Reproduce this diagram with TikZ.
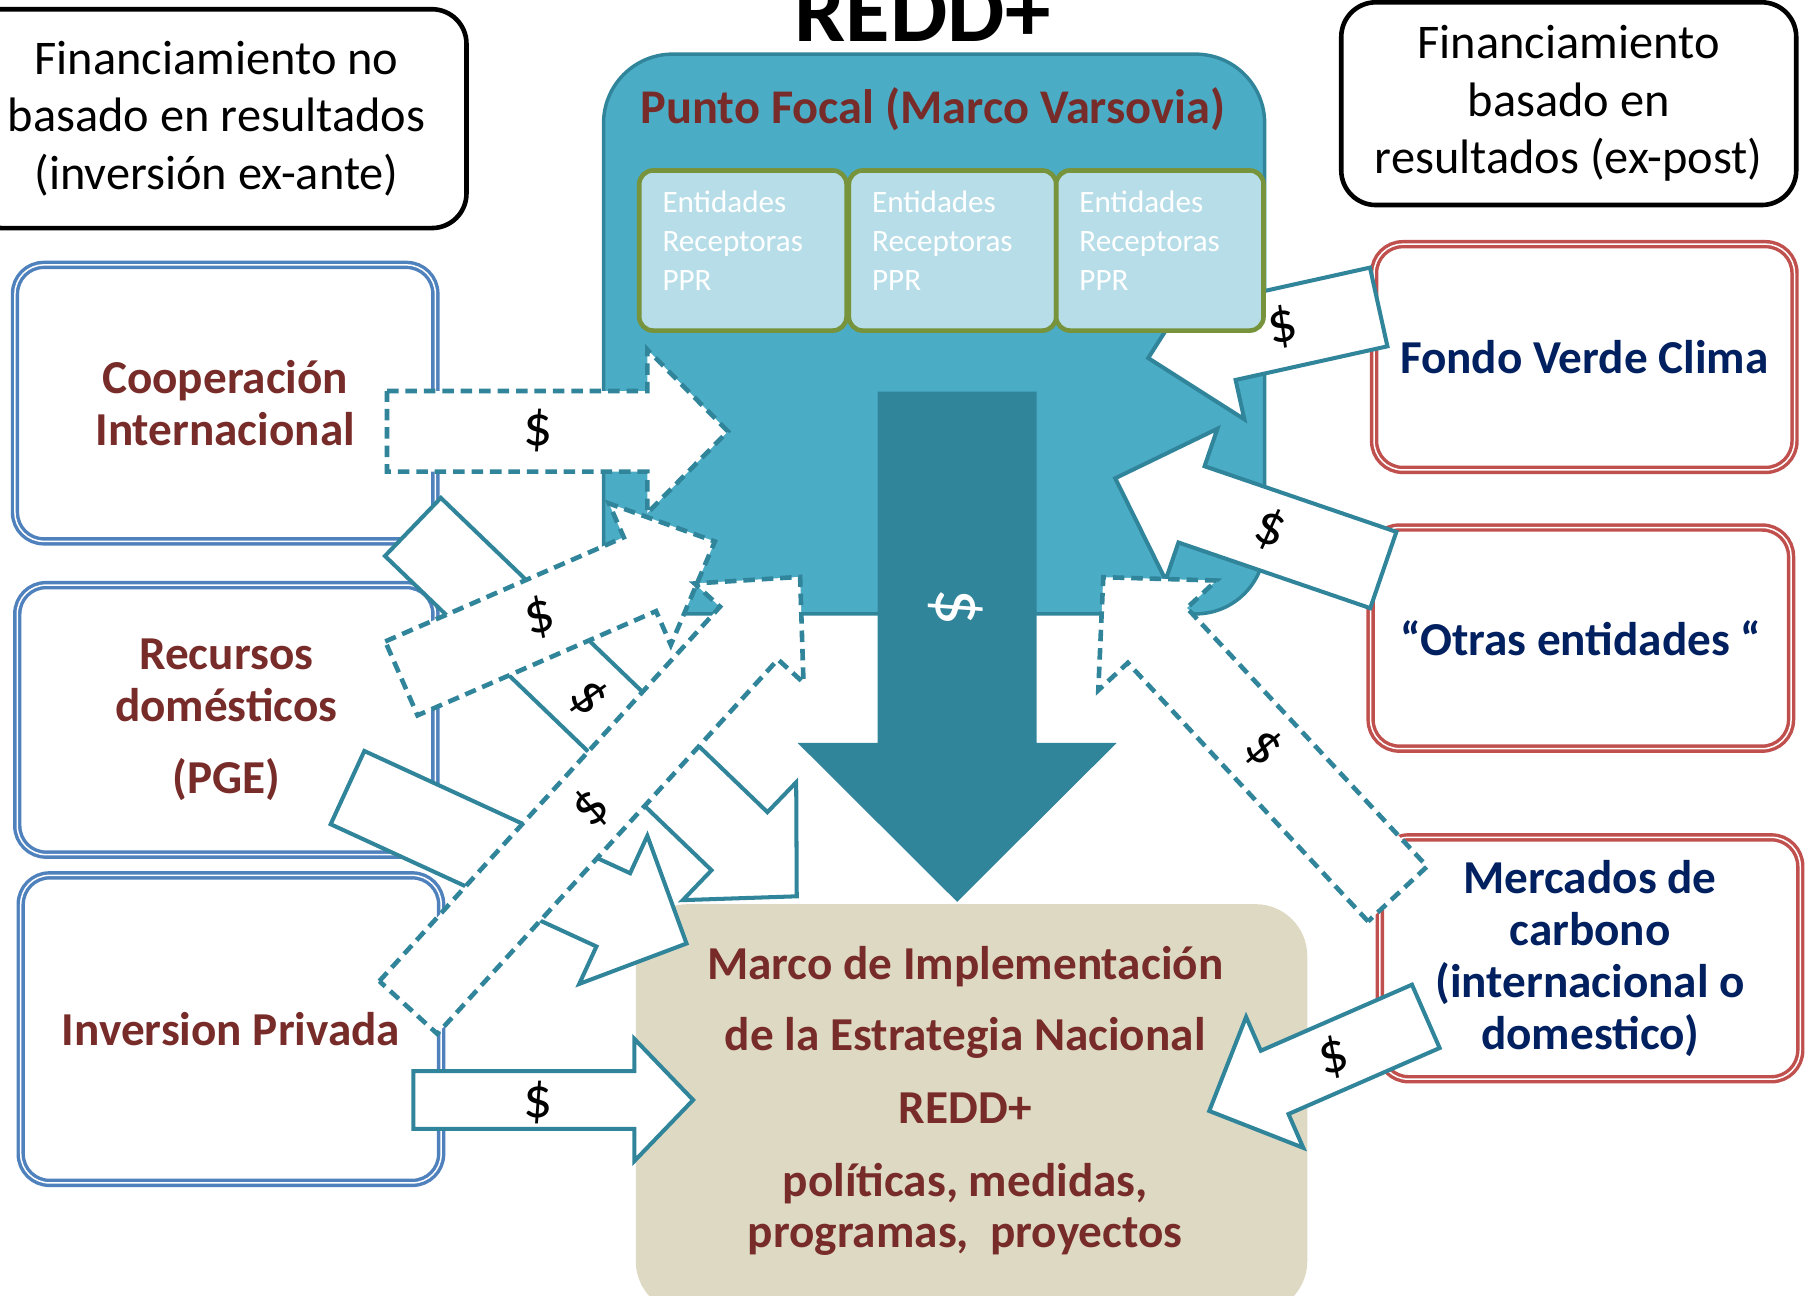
\documentclass[tikz,border=0pt]{standalone}
\usepackage{fontspec}
\setmainfont{Carlito}

\definecolor{tealline}{RGB}{49,133,155}
\definecolor{aquafill}{RGB}{75,172,198}
\definecolor{lightaqua}{RGB}{183,222,232}
\definecolor{pprline}{RGB}{119,147,60}
\definecolor{boxblue}{RGB}{79,129,189}
\definecolor{boxred}{RGB}{192,80,77}
\definecolor{darkred}{RGB}{120,44,42}
\definecolor{navy}{RGB}{0,32,96}
\definecolor{beige}{RGB}{221,217,195}

% block arrow: style, tail, angle, length, shaft half width, head half width, head length
\newcommand{\cashflow}[7]{%
	\begin{scope}[shift={#2}, rotate=#3]
		\draw[#1] (0,-#5) -- ({#4-#7},-#5) -- ({#4-#7},-#6) -- (#4,0)
			-- ({#4-#7},#6) -- ({#4-#7},#5) -- (0,#5) -- cycle;
	\end{scope}}

\begin{document}
\begin{tikzpicture}[x=1pt, y=-1pt,
	notebox/.style={draw=black, line width=4pt, rounded corners=30pt, fill=white,
		align=center, font=\fontsize{42}{50}\selectfont},
	srcbox/.style={draw=boxblue, line width=3pt, double=white, double distance=1.3pt,
		rounded corners=25pt, fill=white, align=center, text=darkred,
		font=\fontsize{41}{45}\selectfont\bfseries},
	fundbox/.style={srcbox, draw=boxred, text=navy},
	focalbox/.style={draw=tealline, line width=3pt, fill=aquafill, rounded corners=60pt},
	marcobox/.style={fill=beige, rounded corners=45pt},
	pprbox/.style={draw=pprline, line width=4pt, fill=lightaqua, rounded corners=12pt,
		minimum width=180pt, minimum height=139pt},
	pprtext/.style={text=white, align=left, inner sep=0pt, font=\fontsize{27}{34}\selectfont},
	boldtext/.style={text=darkred, align=center, font=\fontsize{41}{45}\selectfont\bfseries},
	cashsolid/.style={draw=tealline, line width=3.5pt, fill=white},
	cashdashed/.style={cashsolid, line width=4pt, dash pattern=on 10pt off 6pt},
	dollar/.style={inner sep=0pt, font=\fontsize{50}{50}\selectfont}]
	\useasboundingbox (0,0) rectangle (1568,1125);
	
	%title
	\node[font=\fontsize{79}{80}\selectfont\bfseries, anchor=base] (redd) at (801,36) {REDD+};
	
	%kind of funding
	\node[notebox, minimum width=434pt, minimum height=190pt] (exante) at (188,103)
		{Financiamiento no\\basado en resultados\\(inversión ex-ante)};
	\node[notebox, minimum width=395pt, minimum height=176pt] (expost) at (1362,90)
		{Financiamiento\\basado en\\resultados (ex-post)};
	
	%focal point and implementation frame
	\node[focalbox, minimum width=574pt, minimum height=486pt] (focal) at (811,290) {};
	\node[boldtext, font=\fontsize{42}{45}\selectfont\bfseries] (focaltitle) at (810,95) {Punto Focal (Marco Varsovia)};
	\node[marcobox, minimum width=583pt, minimum height=355pt] (marco) at (843.5,962.5) {};
	\node[boldtext] (marcotext) at (838,956)
		{Marco de Implementación\\[17pt]de la Estrategia Nacional\\[18pt]REDD+\\[18pt]políticas, medidas,\\programas,~ proyectos};
	
	%sources
	\node[srcbox, minimum width=365pt, minimum height=240pt] (coop) at (195.5,350) {Cooperación\\Internacional};
	\node[srcbox, minimum width=363pt, minimum height=234pt] (recursos) at (196.5,625) {Recursos\\domésticos\\[18pt](PGE)};
	\node[srcbox, minimum width=365pt, minimum height=267pt] (privada) at (200.5,893.5) {Inversion Privada};
	\node[fundbox, minimum width=365pt, minimum height=196pt] (fondo) at (1375.5,310) {Fondo Verde Clima};
	\node[fundbox, minimum width=365pt, minimum height=192pt] (otras) at (1372.5,554) {“Otras entidades “};
	\node[fundbox, minimum width=365pt, minimum height=210pt] (mercados) at (1380.5,832)
		{Mercados de\\carbono\\(internacional o\\domestico)};
	
	%main flow
	\cashflow{fill=tealline, draw=none}{(831,340)}{-90}{443}{69}{138.5}{138}
	\node[dollar, text=white, rotate=-90, font=\fontsize{64}{64}\selectfont] (dfocal) at (830,527) {\$};
	
	%this one runs under the PPR boxes
	\cashflow{cashsolid}{(1197,266.5)}{192.5}{205}{35}{70}{70}
	\node[dollar, rotate=12] (dfondo) at (1114,284) {\$};
	
	\foreach \i/\x in {1/553, 2/735, 3/915}{
		\node[pprbox, anchor=north west] (ppr\i) at (\x,146) {};
		\node[pprtext, anchor=west] (pprtext\i) at ({\x+22},209) {Entidades\\Receptoras\\PPR};
	}
	
	%results based funds
	\cashflow{cashsolid}{(1201,494.9)}{161.1}{246}{35}{69.4}{70}
	\node[dollar, rotate=-20] (dotras) at (1103,460) {\$};
	\cashflow{cashdashed}{(1213.4,776.1)}{132.9}{375.4}{35}{70}{69}
	\node[dollar, rotate=-45] (dmercados) at (1097,650) {\$};
	\cashflow{cashsolid}{(1237.9,882.4)}{203.6}{205.2}{30}{62}{62}
	\node[dollar, rotate=15] (dcarbono) at (1158,918) {\$};
	
	%ex-ante funds
	\cashflow{cashdashed}{(336,374.5)}{0}{296}{35}{71}{70}
	\node[dollar] (dcoop) at (467,374) {\$};
	\cashflow{cashsolid}{(358.5,457.5)}{-43.9}{462.5}{35}{71}{69}
	\node[dollar, rotate=-50] (dcoopmarco) at (511,606) {\$};
	\cashflow{cashdashed}{(348.5,589)}{23.6}{297}{35}{67}{71}
	\node[dollar, rotate=15] (drecursos) at (469,536) {\$};
	\cashflow{cashsolid}{(301.7,683.8)}{-24.7}{324}{35}{70.8}{70}
	\node[dollar, rotate=-25] (drecmarco) at (445,759) {\$};
	\cashflow{cashdashed}{(354.5,874.7)}{47.7}{505.5}{34}{64}{66}
	\node[dollar, rotate=45] (dprivada) at (513,702) {\$};
	\cashflow{cashsolid}{(358.8,955)}{0}{243}{25}{53}{51}
	\node[dollar] (dprivmarco) at (467,957) {\$};
\end{tikzpicture}
\end{document}
